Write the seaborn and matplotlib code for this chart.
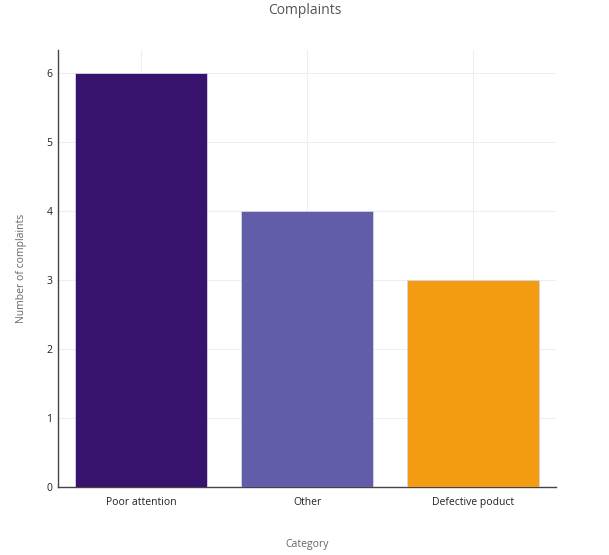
import matplotlib
matplotlib.use("Agg")
import matplotlib.pyplot as plt
import seaborn as sns
import pandas as pd

categories = ["Poor attention", "Other", "Defective poduct"]
complaints = [6, 4, 3]
bar_colors = ["#37136E", "#625DA8", "#F39C12"]
y_ticks = [0, 1, 2, 3, 4, 5, 6]

sns.set_theme(style="white")
plt.rcParams['font.family'] = ['Open Sans', 'DejaVu Sans']

df = pd.DataFrame({"Category": categories, "Complaints": complaints})

fig = plt.figure(figsize=(6.09, 5.55), dpi=100)
ax = fig.add_axes([58/609, 1-487/555, (556-58)/609, (487-50)/555])

sns.barplot(data=df, x="Category", y="Complaints", hue="Category",
            palette=bar_colors, width=0.8, ax=ax, legend=False,
            edgecolor="#d8d4e8", linewidth=0.6, zorder=3, saturation=1)

ax.set_xlim(-0.5, 2.5)
ax.set_ylim(0, 6.33)
ax.set_yticks(y_ticks)
ax.set_yticklabels([str(t) for t in y_ticks])
ax.grid(True, color="#eeeeee", linewidth=0.8, zorder=0)
ax.set_axisbelow(True)

for side in ["top", "right"]:
    ax.spines[side].set_visible(False)
for side in ["left", "bottom"]:
    ax.spines[side].set_color("#444444")
    ax.spines[side].set_linewidth(1.0)

ax.tick_params(axis="both", length=0, labelsize=7.5, colors="#222222")
ax.tick_params(axis="x", pad=7)
ax.tick_params(axis="y", pad=4)

ax.set_xlabel("Category", fontsize=7.5, color="#666666", labelpad=26)
ax.set_ylabel("Number of complaints", fontsize=7.5, color="#666666", labelpad=20)
ax.xaxis.set_label_coords(0.5, -(545-487)/437, transform=ax.transAxes)
ax.xaxis.label.set_va("center")
ax.yaxis.set_label_coords(-(58-22)/498, 0.5, transform=ax.transAxes)
ax.yaxis.label.set_va("center")
fig.suptitle("Complaints", fontsize=10, color="#555555", y=0.995)

fig.savefig("out.png", dpi=100)
